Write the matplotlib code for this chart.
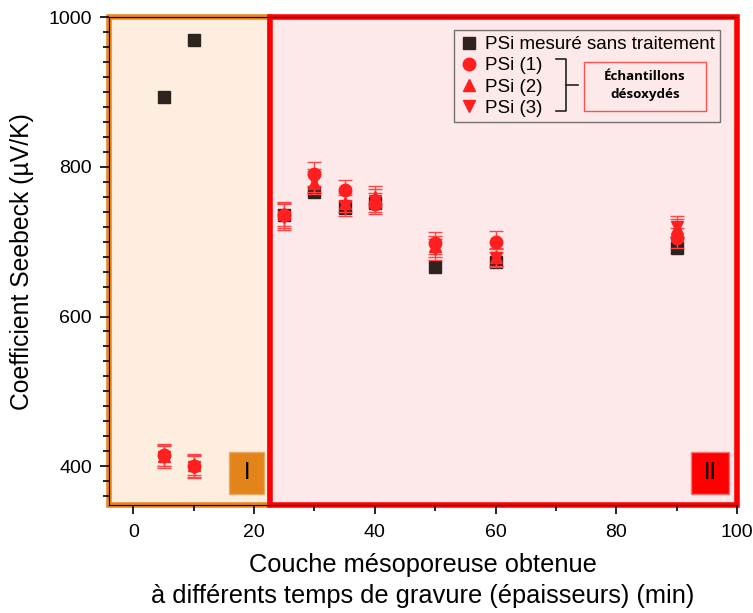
import numpy as np
import matplotlib.pyplot as plt
from matplotlib.lines import Line2D
from matplotlib.patches import Rectangle
import matplotlib.transforms as mtransforms

plt.rcParams['font.family'] = ['Liberation Sans', 'DejaVu Sans']

# etching times (min)
t = [5, 10, 25, 30, 35, 40, 50, 60, 90]

# Seebeck coefficient (uV/K)
raw = [893, 970, 735, 766, 745, 752, 666, 673, 692]
psi1 = [415, 400, 735, 791, 769, 751, 698, 700, 705]
psi2 = [414, 402, 737, 779, 752, 760, 694, 680, 718]
psi3 = [412, 399, 733, 782, 748, 755, 690, 678, 720]
err1 = [15, 15, 17, 16, 14, 14, 15, 14, 13]
err2 = [14, 14, 16, 15, 13, 14, 14, 12, 12]
err3 = [15, 15, 17, 15, 14, 15, 14, 12, 14]

fig = plt.figure(figsize=(7.53, 6.13), dpi=100)
ax = fig.add_axes([0.145, 0.176, 0.834, 0.796])

red = '#FF1F1F'
ebar = '#FF4545'
for y, e, m in [(psi1, err1, 'o'), (psi2, err2, '^'), (psi3, err3, 'v')]:
    ax.errorbar(t, y, yerr=e, fmt=m, color=red, ecolor=ebar, ms=9, capsize=5,
                elinewidth=1, capthick=1, zorder=5)
ax.plot(t, raw, 's', color='#2e231f', ms=8, zorder=4)

ax.set_xlim(-4, 100)
ax.set_ylim(348, 1000)
ax.set_xticks([0, 20, 40, 60, 80, 100])
ax.set_xticks(np.arange(10, 100, 20), minor=True)
ax.set_yticks([400, 600, 800, 1000])
ax.set_yticks(np.arange(360, 1000, 20), minor=True)
ax.tick_params(which='major', direction='out', length=6.5, width=1.2, labelsize=14, pad=6)
ax.tick_params(which='minor', direction='out', length=4.5, width=1.2)
ax.tick_params(axis='x', pad=7)
ax.spines['right'].set_visible(False)

# regions I and II
trans = mtransforms.blended_transform_factory(ax.transData, ax.transAxes)
ax.add_patch(Rectangle((-4, 0), 26.7, 1, transform=trans, facecolor='#FDEEE0',
                       edgecolor='#E8861A', lw=4, zorder=0, clip_on=False))
ax.add_patch(Rectangle((22.7, 0), 77.3, 1, transform=trans, facecolor='#FDE9E9',
                       edgecolor='#FF0000', lw=4, zorder=1, clip_on=False))

ax.add_patch(Rectangle((0.1914, 0.0225), 0.0558, 0.0861, transform=ax.transAxes,
                       facecolor='#E3841A', edgecolor='#EBA860', lw=1, zorder=3))
ax.text(0.2193, 0.0656, 'I', transform=ax.transAxes, ha='center', va='center',
        fontsize=17, zorder=4)
ax.add_patch(Rectangle((0.9266, 0.0225), 0.0606, 0.0861, transform=ax.transAxes,
                       facecolor='#FF0000', edgecolor='#FF7070', lw=1, zorder=3))
ax.text(0.9569, 0.0656, 'II', transform=ax.transAxes, ha='center', va='center',
        fontsize=17, zorder=4)

ax.set_ylabel('Coefficient Seebeck (µV/K)', fontsize=17.8, labelpad=10)
ax.set_xlabel('Couche mésoporeuse obtenue\nà différents temps de gravure (épaisseurs) (min)',
              fontsize=18.3, linespacing=1.35, labelpad=9)

handles = [
    Line2D([], [], ls='none', marker='s', color='#2e231f', ms=8),
    Line2D([], [], ls='none', marker='o', color=red, ms=9),
    Line2D([], [], ls='none', marker='^', color=red, ms=9),
    Line2D([], [], ls='none', marker='v', color=red, ms=9),
]
labels = ['PSi mesuré sans traitement', 'PSi (1)', 'PSi (2)', 'PSi (3)']
leg = ax.legend(handles, labels, loc='upper right', bbox_to_anchor=(0.973, 0.973),
                fontsize=13.5, frameon=True, fancybox=False, handletextpad=0.35,
                handlelength=1.0, borderpad=0.3, labelspacing=0.22, borderaxespad=0)
leg.get_frame().set_edgecolor('#555555')
leg.get_frame().set_facecolor('none')
leg.get_frame().set_linewidth(1)
leg.set_zorder(6)

# bracket grouping treated samples
bx = 0.727
ax.plot([bx - 0.016, bx, bx, bx - 0.016], [0.914, 0.914, 0.807, 0.807],
        transform=ax.transAxes, color='#222222', lw=1.2, zorder=7)
ax.plot([bx, bx + 0.02], [0.861, 0.861], transform=ax.transAxes,
        color='#222222', lw=1.2, zorder=7)
ax.add_patch(Rectangle((0.756, 0.807), 0.195, 0.101, transform=ax.transAxes,
                       facecolor='none', edgecolor='#FF5050', lw=1, zorder=7))
ax.text(0.853, 0.859, 'Échantillons\ndésoxydés', transform=ax.transAxes,
        ha='center', va='center', fontsize=9.6, fontweight='bold',
        family=['Open Sans', 'DejaVu Sans'], linespacing=1.5, zorder=7)

fig.savefig('out.png', dpi=100)
